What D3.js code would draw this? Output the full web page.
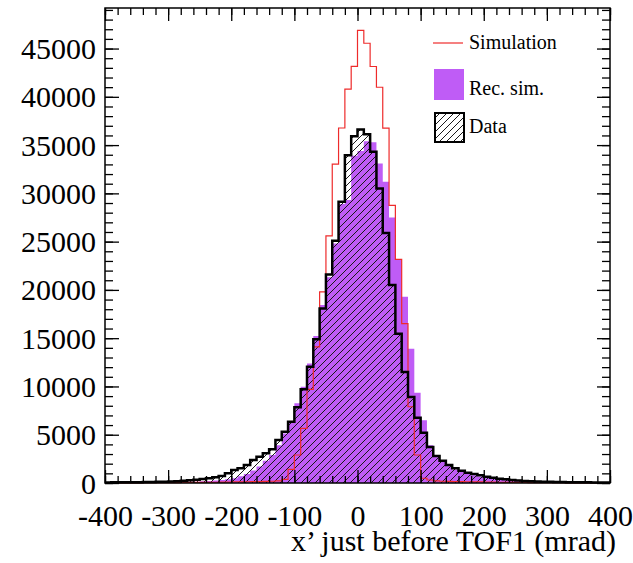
<!DOCTYPE html>
<html>
<head>
<meta charset="utf-8">
<script src="https://cdn.jsdelivr.net/npm/d3@7"></script>
<style>
  html, body { margin: 0; padding: 0; background: #fff; }
  svg { display: block; }
  text { font-family: "Liberation Serif", "DejaVu Serif", serif; fill: #000; }
</style>
</head>
<body>
<svg id="chart" width="633" height="563"></svg>
<script>
// Histogram binning: 80 bins of 10 mrad from -400 to 400 (left edges)
const binLow = d3.range(-400, 400, 10);
const binWidth = 10;

// True simulation (counts per bin)
const simulation = [
  10, 10, 15, 15, 20, 20, 25, 25, 30, 35,
  40, 45, 50, 55, 60, 70, 75, 80, 90, 100,
  110, 120, 130, 140, 150, 160, 180, 220, 380, 1420,
  2900, 5660, 9700, 14110, 19800, 25600, 33020, 36770, 40790, 43150,
  46890, 45550, 43140, 40990, 36750, 28750, 23160, 16510, 7900, 2900,
  490, 310, 220, 180, 160, 150, 140, 130, 120, 110,
  100, 90, 80, 70, 60, 55, 50, 45, 40, 35,
  30, 25, 25, 20, 20, 15, 15, 10, 10, 10
];

// Reconstructed simulation
const recSim = [
  20, 25, 30, 35, 40, 45, 50, 55, 60, 70,
  80, 90, 100, 120, 140, 170, 210, 260, 320, 400,
  490, 700, 930, 1300, 1700, 2300, 2900, 3900, 5140, 6240,
  8250, 9970, 12390, 15220, 18430, 21300, 24800, 28900, 29300, 33900,
  34400, 35400, 35300, 33100, 31200, 27500, 23100, 19300, 13900, 9350,
  6500, 3900, 2900, 2200, 1750, 1400, 1150, 950, 800, 680,
  560, 470, 390, 320, 260, 210, 180, 150, 130, 110,
  95, 80, 70, 60, 55, 50, 45, 40, 35, 30
];

// Measured data
const data = [
  60, 65, 70, 75, 80, 90, 100, 110, 120, 140,
  160, 190, 230, 280, 340, 410, 490, 590, 720, 1000,
  1350, 1520, 1860, 2380, 2720, 3070, 3490, 4450, 5310, 6350,
  7850, 9700, 12040, 14900, 18080, 21600, 25100, 29120, 33950, 35920,
  36610, 36130, 34300, 30500, 25900, 20500, 15450, 11500, 8900, 6750,
  5200, 3720, 2800, 2300, 1860, 1520, 1270, 1070, 930, 800,
  650, 550, 450, 380, 310, 260, 220, 190, 160, 140,
  120, 110, 100, 90, 80, 75, 70, 60, 55, 50
];

// Axis ticks
const xMajorTicks = [-400, -300, -200, -100, 0, 100, 200, 300, 400];
const xMinorTicks = d3.range(-400, 401, 20);
const yMajorTicks = [0, 5000, 10000, 15000, 20000, 25000, 30000, 35000, 40000, 45000];
const yMinorTicks = d3.range(0, 49001, 1000);

const xDomain = [-400, 400];
const yDomain = [0, 49200];

const legendItems = ["Simulation", "Rec. sim.", "Data"];
const xTitle = "x\u2019 just before TOF1 (mrad)";

// Layout
const frame = { left: 105, right: 610, top: 8, bottom: 483 };
const svg = d3.select("#chart");

const x = d3.scaleLinear().domain(xDomain).range([frame.left, frame.right]);
const y = d3.scaleLinear().domain(yDomain).range([frame.bottom, frame.top]);

// plain ASCII hyphen for negative numbers
const plainNumber = d => String(d);

// Diagonal hatch for the data histogram
const defs = svg.append("defs");
const pat = defs.append("pattern")
  .attr("id", "hatch")
  .attr("patternUnits", "userSpaceOnUse")
  .attr("width", 7).attr("height", 7);
pat.append("path")
  .attr("d", "M-1,1 l2,-2 M0,7 l7,-7 M6,8 l2,-2")
  .attr("stroke", "#1a1a1a").attr("stroke-width", 1);

function points(values) {
  const pts = binLow.map((b, i) => [b, values[i]]);
  pts.push([binLow[binLow.length - 1] + binWidth, values[values.length - 1]]);
  return pts;
}

const area = d3.area()
  .curve(d3.curveStepAfter)
  .x(d => x(d[0])).y0(y(0)).y1(d => y(d[1]));
const line = d3.line()
  .curve(d3.curveStepAfter)
  .x(d => x(d[0])).y(d => y(d[1]));

const plot = svg.append("g");

// Rec. sim. solid fill
plot.append("path")
  .attr("d", area(points(recSim)))
  .attr("fill", "#bf5cf6");

// Data hatched fill
plot.append("path")
  .attr("d", area(points(data)))
  .attr("fill", "url(#hatch)");

// Simulation outline
plot.append("path")
  .attr("d", line(points(simulation)))
  .attr("fill", "none")
  .attr("stroke", "#ee2b2b")
  .attr("stroke-width", 1.2);

// Data outline
plot.append("path")
  .attr("d", line(points(data)))
  .attr("fill", "none")
  .attr("stroke", "#000")
  .attr("stroke-width", 2.5)
  .attr("stroke-linejoin", "miter");

// Axes: inward ticks on all four sides
function styleAxis(g) {
  g.select(".domain").remove();
  g.selectAll(".tick line").attr("stroke", "#000").attr("stroke-width", 1.3);
}

// minor ticks
svg.append("g").attr("transform", `translate(0,${frame.bottom})`)
  .call(d3.axisBottom(x).tickValues(xMinorTicks).tickSize(-7).tickFormat(""))
  .call(styleAxis);
svg.append("g").attr("transform", `translate(0,${frame.top})`)
  .call(d3.axisTop(x).tickValues(xMinorTicks).tickSize(-7).tickFormat(""))
  .call(styleAxis);
svg.append("g").attr("transform", `translate(${frame.left},0)`)
  .call(d3.axisLeft(y).tickValues(yMinorTicks).tickSize(-8).tickFormat(""))
  .call(styleAxis);
svg.append("g").attr("transform", `translate(${frame.right},0)`)
  .call(d3.axisRight(y).tickValues(yMinorTicks).tickSize(-8).tickFormat(""))
  .call(styleAxis);

// major ticks with labels
const xAxisG = svg.append("g").attr("transform", `translate(0,${frame.bottom})`)
  .call(d3.axisBottom(x).tickValues(xMajorTicks).tickSize(-13).tickFormat(plainNumber))
  .call(styleAxis);
xAxisG.selectAll(".tick text")
  .attr("y", 43).attr("dy", null)
  .attr("font-size", 30)
  .attr("font-family", "Liberation Serif, serif")
  .attr("fill", "#000");

svg.append("g").attr("transform", `translate(0,${frame.top})`)
  .call(d3.axisTop(x).tickValues(xMajorTicks).tickSize(-13).tickFormat(""))
  .call(styleAxis);

const yAxisG = svg.append("g").attr("transform", `translate(${frame.left},0)`)
  .call(d3.axisLeft(y).tickValues(yMajorTicks).tickSize(-14).tickFormat(plainNumber))
  .call(styleAxis);
yAxisG.selectAll(".tick text")
  .attr("x", -9).attr("dy", 10)
  .attr("font-size", 30)
  .attr("font-family", "Liberation Serif, serif")
  .attr("fill", "#000");

svg.append("g").attr("transform", `translate(${frame.right},0)`)
  .call(d3.axisRight(y).tickValues(yMajorTicks).tickSize(-13).tickFormat(""))
  .call(styleAxis);

// Frame
svg.append("rect")
  .attr("x", frame.left).attr("y", frame.top)
  .attr("width", frame.right - frame.left)
  .attr("height", frame.bottom - frame.top)
  .attr("fill", "none").attr("stroke", "#000").attr("stroke-width", 1.5);

// Axis title
svg.append("text")
  .attr("x", 616).attr("y", 551)
  .attr("text-anchor", "end")
  .attr("font-size", 30)
  .text(xTitle);

// Legend
const leg = svg.append("g");
leg.append("line")
  .attr("x1", 433).attr("x2", 463).attr("y1", 43).attr("y2", 43)
  .attr("stroke", "#ee2b2b").attr("stroke-width", 1.2);
leg.append("rect")
  .attr("x", 434).attr("y", 69).attr("width", 30).attr("height", 31)
  .attr("fill", "#bf5cf6");
leg.append("rect")
  .attr("x", 435).attr("y", 113).attr("width", 29).attr("height", 29)
  .attr("fill", "url(#hatch)")
  .attr("stroke", "#000").attr("stroke-width", 2);
const legY = [49, 95, 133];
leg.selectAll("text.lg").data(legendItems).join("text")
  .attr("class", "lg")
  .attr("x", 469).attr("y", (d, i) => legY[i])
  .attr("font-size", 20)
  .text(d => d);
</script>
</body>
</html>
